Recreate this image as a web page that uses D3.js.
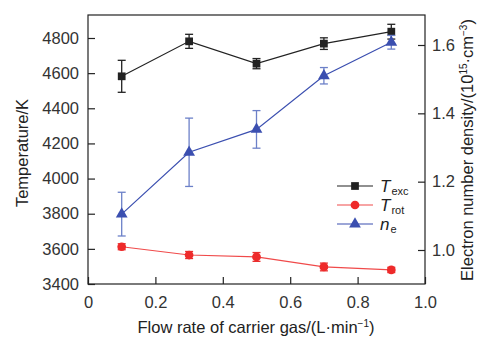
<!DOCTYPE html>
<html>
<head>
<meta charset="utf-8">
<script src="https://cdn.jsdelivr.net/npm/d3@7"></script>
<style>
  body { margin: 0; background: #fff; }
  text { font-family: "Liberation Sans", Arial, sans-serif; fill: #222; }
</style>
</head>
<body>
<script>
"use strict";

const flow = [0.1, 0.3, 0.5, 0.7, 0.9];
const tExc = [4582, 4781, 4654, 4768, 4836];
const tExcErr = [91, 40, 29, 33, 42];
const tRot = [3612, 3565, 3554, 3497, 3480];
const tRotErr = [17, 20, 25, 22, 15];
const ne = [1.105, 1.286, 1.353, 1.51, 1.608];
const neErr = [0.064, 0.1, 0.055, 0.024, 0.02];

const xTicks = [0, 0.2, 0.4, 0.6, 0.8, 1.0];
const yTicks = [3400, 3600, 3800, 4000, 4200, 4400, 4600, 4800];
const y2Ticks = [1.0, 1.2, 1.4, 1.6];

const m = { width: 481, height: 338, left: 88, right: 425, top: 15, bottom: 284 };

const svg = d3.select("body").append("svg")
  .attr("width", m.width)
  .attr("height", m.height);

const x = d3.scaleLinear().domain([0, 1]).range([m.left, m.right]);
const y = d3.scaleLinear().domain([3400, 4800]).range([m.bottom, 38]);
const y2 = d3.scaleLinear().domain([1.0, 1.6]).range([250, 45]);

// frame
svg.append("rect")
  .attr("x", m.left).attr("y", m.top)
  .attr("width", m.right - m.left).attr("height", m.bottom - m.top)
  .attr("fill", "none").attr("stroke", "#222").attr("stroke-width", 1.2);

const tickLen = 7;
const fs = 16.5;

// left axis
const gl = svg.append("g").attr("transform", `translate(${m.left},0)`)
  .call(d3.axisLeft(y).tickValues(yTicks).tickSize(-tickLen).tickPadding(9).tickFormat(d3.format("d")));
// bottom axis
const gb = svg.append("g").attr("transform", `translate(0,${m.bottom})`)
  .call(d3.axisBottom(x).tickValues(xTicks).tickSize(-tickLen).tickPadding(12)
    .tickFormat(d => d === 0 ? "0" : d3.format(".1f")(d)));
// right axis
const gr = svg.append("g").attr("transform", `translate(${m.right},0)`)
  .call(d3.axisRight(y2).tickValues(y2Ticks).tickSize(-tickLen).tickPadding(7).tickFormat(d3.format(".1f")));

[gl, gb, gr].forEach(g => {
  g.select(".domain").remove();
  g.selectAll(".tick line").attr("stroke", "#222").attr("stroke-width", 1.2);
  g.selectAll(".tick text").attr("font-size", fs).style("fill", "#333");
});

// axis titles
svg.append("text")
  .attr("transform", `translate(28,${153}) rotate(-90)`)
  .attr("text-anchor", "middle").attr("font-size", fs)
  .text("Temperature/K");

const rt = svg.append("text")
  .attr("transform", `translate(473,150) rotate(-90)`)
  .attr("text-anchor", "middle").attr("font-size", fs);
rt.append("tspan").text("Electron number density/(10");
rt.append("tspan").attr("font-size", 10).attr("dy", -6).text("15");
rt.append("tspan").attr("dy", 6).text("·cm");
rt.append("tspan").attr("font-size", 10).attr("dy", -6).text("−3");
rt.append("tspan").attr("dy", 6).text(")");

const xt = svg.append("text")
  .attr("x", 256).attr("y", 333)
  .attr("text-anchor", "middle").attr("font-size", fs);
xt.append("tspan").text("Flow rate of carrier gas/(L·min");
xt.append("tspan").attr("font-size", 10).attr("dy", -6).text("−1");
xt.append("tspan").attr("dy", 6).text(")");

// series
const series = [
  { v: tExc, e: tExcErr, ys: y, line: "#222", err: "#222", fill: "#222", shape: d3.symbolSquare, size: 60 },
  { v: tRot, e: tRotErr, ys: y, line: "#f04a4a", err: "#e83030", fill: "#ee2a2a", shape: d3.symbolCircle, size: 60 },
  { v: ne, e: neErr, ys: y2, line: "#3b4fb0", err: "#6c80c8", fill: "#3b4fb0", shape: d3.symbolTriangle, size: 60 }
];

series.forEach(s => {
  const pts = flow.map((f, i) => ({ x: f, v: s.v[i], e: s.e[i] }));
  const g = svg.append("g");
  g.append("path")
    .datum(pts)
    .attr("fill", "none").attr("stroke", s.line).attr("stroke-width", 1.2)
    .attr("d", d3.line().x(d => x(d.x)).y(d => s.ys(d.v)));
  const eb = g.selectAll(".eb").data(pts).enter().append("g")
    .attr("stroke", s.err).attr("stroke-width", 1.3);
  eb.append("line")
    .attr("x1", d => x(d.x)).attr("x2", d => x(d.x))
    .attr("y1", d => s.ys(d.v - d.e)).attr("y2", d => s.ys(d.v + d.e));
  eb.append("line")
    .attr("x1", d => x(d.x) - 4).attr("x2", d => x(d.x) + 4)
    .attr("y1", d => s.ys(d.v - d.e)).attr("y2", d => s.ys(d.v - d.e));
  eb.append("line")
    .attr("x1", d => x(d.x) - 4).attr("x2", d => x(d.x) + 4)
    .attr("y1", d => s.ys(d.v + d.e)).attr("y2", d => s.ys(d.v + d.e));
  g.selectAll(".mk").data(pts).enter().append("path")
    .attr("transform", d => `translate(${x(d.x)},${s.ys(d.v)})`)
    .attr("d", d3.symbol().type(s.shape).size(s.size))
    .attr("fill", s.fill);
});

// legend
const legend = [
  { main: "T", sub: "exc" },
  { main: "T", sub: "rot" },
  { main: "n", sub: "e" }
];
legend.forEach((l, i) => {
  const s = series[i];
  const ly = 186 + i * 19;
  svg.append("line")
    .attr("x1", 337).attr("x2", 373).attr("y1", ly).attr("y2", ly)
    .attr("stroke", s.line).attr("stroke-width", 1.2);
  svg.append("path")
    .attr("transform", `translate(355,${ly})`)
    .attr("d", d3.symbol().type(s.shape).size(s.size))
    .attr("fill", s.fill);
  const t = svg.append("text").attr("x", 380).attr("y", ly + 6).attr("font-size", 17);
  t.append("tspan").attr("font-style", "italic").text(l.main);
  t.append("tspan").attr("font-size", 11).attr("dy", 3).attr("dx", 1).text(l.sub);
});
</script>
</body>
</html>
